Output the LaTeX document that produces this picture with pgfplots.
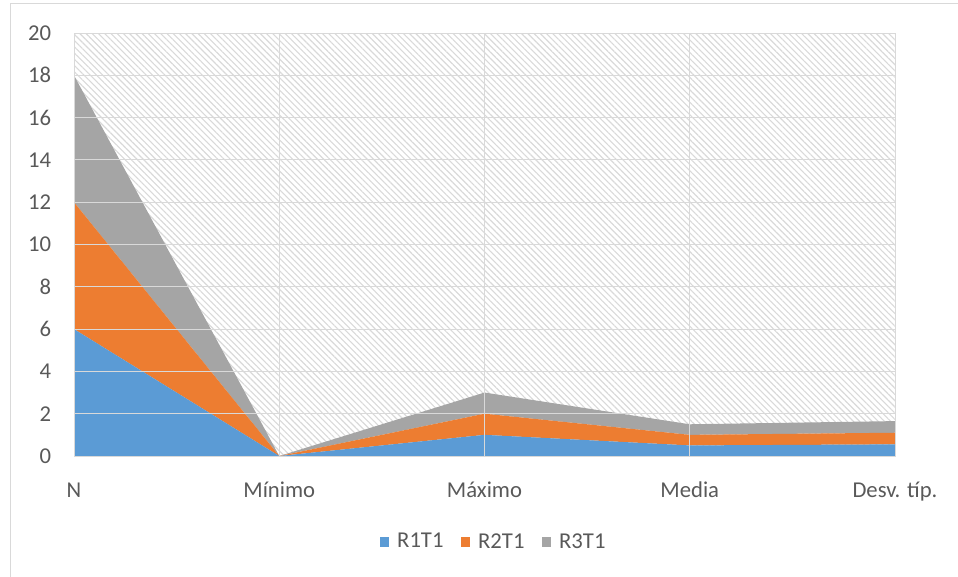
\documentclass[border=0pt]{standalone}
\usepackage{fontspec}
\setmainfont{Carlito}
\usepackage{pgfplots}
\pgfplotsset{compat=1.18}
\usetikzlibrary{patterns.meta}
\definecolor{c1}{HTML}{5B9BD5}
\definecolor{c2}{HTML}{ED7D31}
\definecolor{c3}{HTML}{A5A5A5}
\definecolor{txt}{HTML}{595959}
\definecolor{grd}{HTML}{D9D9D9}
\begin{document}
\begin{tikzpicture}
\useasboundingbox (0,0) rectangle (718.5pt,432pt);
\draw[grd, line width=0.75pt] (7.5pt,-10pt) -- (7.5pt,429pt) -- (730pt,429pt);
\begin{axis}[
  at={(55.5pt,90pt)}, anchor=south west,
  scale only axis, width=615.75pt, height=317.25pt,
  xmin=0, xmax=4, ymin=0, ymax=20,
  ytick={0,2,...,20}, xtick={0,1,2,3,4},
  xticklabels={N,Mínimo,Máximo,Media,Desv. típ.},
  stack plots=y, area style,
  grid=major, grid style={grd, line width=0.75pt},
  axis line style={grd, line width=0.75pt},
  major tick length=0pt,
  tick label style={font=\fontsize{17}{20}\selectfont, text=txt},
  /pgf/number format/assume math mode=true,
  xticklabel style={anchor=base, yshift=-30.75pt, inner sep=0pt},
  yticklabel style={anchor=east, xshift=-17pt, inner sep=0pt},
  axis background/.style={pattern={Lines[angle=-45,distance=3.3pt,line width=0.85pt]}, pattern color=gray!30},
  legend style={at={(0.5116,-0.2026)}, anchor=center, draw=none, fill=none,
    legend columns=3, font=\fontsize{17}{20}\selectfont, text=txt,
    /tikz/every even column/.append style={column sep=11pt}},
  legend image code/.code={\fill[#1] (0pt,-3.6pt) rectangle (7.2pt,3.6pt); \path (11pt,0pt);},
]
\addplot[fill=c1, draw=none] coordinates {(0,6) (1,0) (2,1) (3,0.5) (4,0.55)} \closedcycle;
\addplot[fill=c2, draw=none] coordinates {(0,6) (1,0) (2,1) (3,0.5) (4,0.55)} \closedcycle;
\addplot[fill=c3, draw=none] coordinates {(0,6) (1,0) (2,1) (3,0.5) (4,0.55)} \closedcycle;
\legend{R1T1,R2T1,R3T1}
\end{axis}
\end{tikzpicture}
\end{document}
